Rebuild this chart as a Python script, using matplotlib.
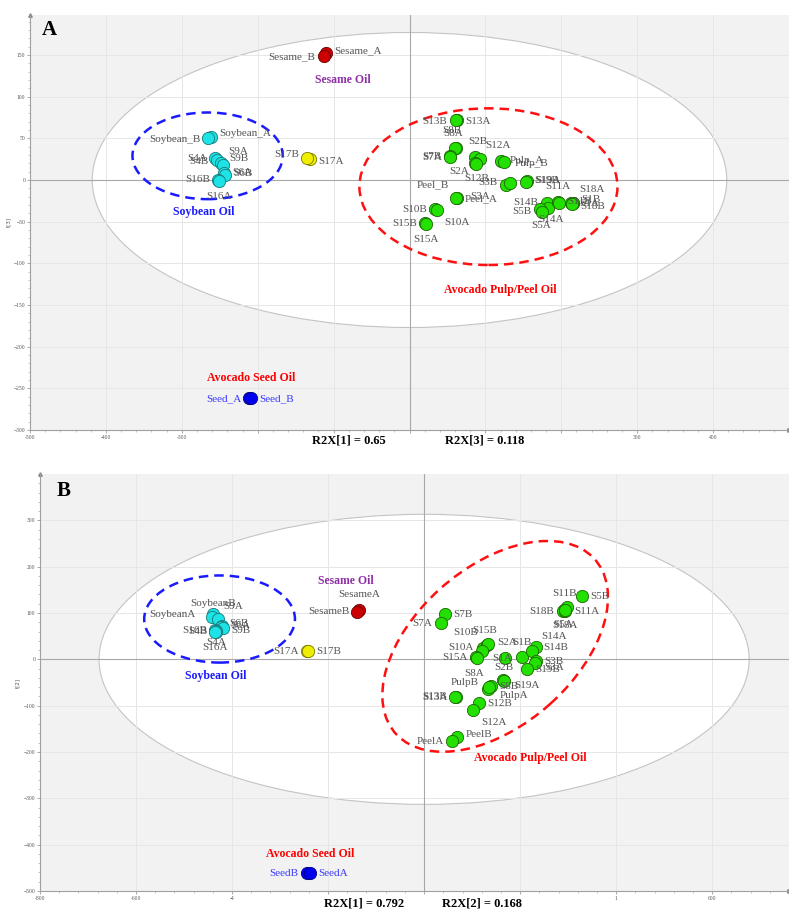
import matplotlib.pyplot as plt
from matplotlib.patches import Ellipse
from matplotlib.ticker import AutoMinorLocator

plt.rcParams['font.family'] = ['Liberation Serif', 'DejaVu Serif']

# ---------------- panel A : t[1] vs t[3] ----------------
names_a = ['Sesame_A', 'Sesame_B', 'Soybean_A', 'Soybean_B', 'S4A', 'S4B', 'S9A', 'S9B',
           'S6A', 'S6B', 'S16B', 'S16A', 'S17A', 'S17B',
           'S13A', 'S13B', 'S8A', 'S8B', 'S7A', 'S7B', 'S2B', 'S12A', 'S2A', 'S12B',
           'Pulp_A', 'Pulp_B', 'S3B', 'S3A', 'S19A', 'S19B', 'Peel_A', 'Peel_B', 'S10B', 'S10A',
           'S15B', 'S15A', 'S14B', 'S14A', 'S5B', 'S5A', 'S11A', 'S11B', 'S1A', 'S1B',
           'S18A', 'S18B', 'Seed_A', 'Seed_B']
t1_a = [-110, -113, -262, -265, -256, -254, -248, -246, -245, -243, -252, -251, -131, -135,
        62, 61, 61, 60, 54, 53, 86, 93, 86, 88, 121, 124, 127, 132, 155, 153, 62, 61, 34, 36,
        21, 22, 181, 183, 172, 174, 195, 197, 213, 215, 216, 214, -211, -209]
t3_a = [152, 149, 52, 50, 26, 24, 21, 18, 9, 6, 0, -1, 25, 27,
        72, 72, 38, 39, 29, 28, 28, 25, 20, 19, 23, 22, -6, -3, -1, -2, -22, -21, -35, -36,
        -52, -53, -27, -33, -35, -38, -26, -28, -28, -27, -28, -29, -262, -262]
group_a = ['sesame'] * 2 + ['soy'] * 10 + ['s17'] * 2 + ['avo'] * 32 + ['seed'] * 2

# ---------------- panel B : t[1] vs t[2] ----------------
names_b = ['SesameA', 'SesameB', 'SoybeanB', 'SoybeanA', 'S9A', 'S6B', 'S6A', 'S9B',
           'S16B', 'S4B', 'S4A', 'S16A', 'S17A', 'S17B',
           'S5B', 'S11B', 'S11A', 'S18B', 'S18A', 'S5A', 'S7B', 'S7A', 'S10B', 'S15B',
           'S2A', 'S10A', 'S15A', 'S8A', 'S1A', 'S1B', 'S14A', 'S14B', 'S3B', 'S3A',
           'S19B', 'S2B', 'S19A', 'S8B', 'PulpA', 'PulpB', 'S13A', 'S13B', 'S12B', 'S12A',
           'PeelB', 'PeelA', 'SeedB', 'SeedA']
t1_b = [-136, -139, -440, -442, -430, -421, -422, -418, -435, -433, -434, -435, -244, -241,
        329, 298, 292, 290, 294, 293, 44, 35, 123, 131,
        133, 121, 108, 110, 169, 204, 233, 225, 233, 232,
        214, 165, 167, 139, 134, 136, 66, 65, 115, 102,
        69, 58, -244, -238]
t2_b = [106, 103, 97, 91, 86, 72, 70, 68, 63, 61, 60, 58, 17, 17,
        136, 112, 106, 104, 104, 106, 97, 78, 24, 32,
        34, 19, 4, 2, 2, 4, 26, 17, -4, -8,
        -20, -45, -47, -58, -63, -60, -82, -81, -95, -110,
        -168, -177, -462, -462]
group_b = ['sesame'] * 2 + ['soy'] * 10 + ['s17'] * 2 + ['avo'] * 32 + ['seed'] * 2

# label offsets (points) for each sample name
off_a = {'Sesame_A': (6, 2), 'Sesame_B': (-6, -1), 'Soybean_A': (6, 2), 'Soybean_B': (-6, -1),
         'S4A': (-6, 0), 'S4B': (-6, -1), 'S9A': (5, 8), 'S9B': (5, 5), 'S6A': (6, 0), 'S6B': (6, 1),
         'S16B': (-6, 0), 'S16A': (0, -11), 'S17A': (6, -2), 'S17B': (-6, 2),
         'S13A': (6, -1), 'S13B': (-6, -1), 'S8A': (-2, 11), 'S8B': (-2, 12), 'S7A': (-6, -1),
         'S7B': (-6, 0), 'S2B': (2, 11), 'S12A': (4, 10), 'S2A': (-4, -6), 'S12B': (0, -10),
         'Pulp_A': (6, 0), 'Pulp_B': (8, -1), 'S3B': (-6, 2), 'S3A': (-14, -10), 'S19A': (6, 0),
         'S19B': (6, 1), 'Peel_A': (6, 0), 'Peel_B': (-5, 9), 'S10B': (-6, 0), 'S10A': (5, -9),
         'S15B': (-6, 0), 'S15A': (0, -11), 'S14B': (-6, 0), 'S14A': (2, -9), 'S5B': (-6, -2),
         'S5A': (0, -10), 'S11A': (0, 11), 'S11B': (6, 1), 'S1A': (6, 0), 'S1B': (6, 2),
         'S18A': (4, 10), 'S18B': (6, -2), 'Seed_A': (-6, 0), 'Seed_B': (6, 0)}
off_b = {'SesameA': (0, 11), 'SesameB': (-6, 0), 'SoybeanB': (0, 8), 'SoybeanA': (-12, 2),
         'S9A': (4, 9), 'S6B': (5, 2), 'S6A': (6, 1), 'S9B': (6, -2), 'S16B': (-6, 0),
         'S4B': (-6, 0), 'S4A': (0, -8), 'S16A': (0, -11), 'S17A': (-6, 0), 'S17B': (6, 0),
         'S5B': (6, 0), 'S11B': (-2, 10), 'S11A': (7, -1), 'S18B': (-7, 0), 'S18A': (0, -10),
         'S5A': (-1, -10), 'S7B': (6, 0), 'S7A': (-6, 0), 'S10B': (-4, 11), 'S15B': (-2, 10),
         'S2A': (7, 1), 'S10A': (-6, 2), 'S15A': (-6, 0), 'S8A': (-2, -11), 'S1A': (-2, 0),
         'S1B': (0, 11), 'S14A': (4, 8), 'S14B': (8, 3), 'S3B': (6, 0), 'S3A': (6, -3),
         'S19B': (6, -1), 'S2B': (0, 9), 'S19A': (7, -3), 'S8B': (6, 0), 'PulpA': (8, -5),
         'PulpB': (-8, 3), 'S13A': (-6, 0), 'S13B': (-6, 0), 'S12B': (6, 0), 'S12A': (6, -9),
         'PeelB': (6, 2), 'PeelA': (-6, 0), 'SeedB': (-6, 0), 'SeedA': (6, 0)}

face = {'sesame': '#cc0000', 'soy': '#1ee3e6', 's17': '#f0ee00', 'avo': '#22e000', 'seed': '#0000f0'}
edge = {'sesame': '#6a0000', 'soy': '#187878', 's17': '#7a7800', 'avo': '#1a6600', 'seed': '#000080'}

fig = plt.figure(figsize=(7.89, 9.11), dpi=100, facecolor='white')
axA = fig.add_axes([30/789, 1-430/911, 759/789, 415/911])
axB = fig.add_axes([40/789, 1-891/911, 749/789, 417/911])


def setup(ax, xlim, ylim, xticks, xlabels, yticks, ylab):
    ax.set_facecolor('#f2f2f2')
    ax.set_xlim(*xlim)
    ax.set_ylim(*ylim)
    ax.set_xticks(xticks)
    ax.set_xticklabels(xlabels)
    ax.set_yticks(yticks)
    ax.xaxis.set_minor_locator(AutoMinorLocator(5))
    ax.yaxis.set_minor_locator(AutoMinorLocator(5))
    ax.tick_params(labelsize=4, colors='#888888', labelcolor='#555555', length=2, width=0.5, pad=1.5)
    ax.tick_params(which='minor', length=1.2, width=0.4, colors='#999999')
    for s in ['top', 'right']:
        ax.spines[s].set_visible(False)
    for s in ['left', 'bottom']:
        ax.spines[s].set_color('#a0a0a0')
        ax.spines[s].set_linewidth(0.8)
    ax.grid(True, color='#e6e6e6', lw=0.7)
    ax.set_axisbelow('line')
    ax.axhline(0, color='#a8a8a8', lw=0.8, zorder=2)
    ax.axvline(0, color='#a8a8a8', lw=0.8, zorder=2)
    ax.set_ylabel(ylab, fontsize=4, color='#555555', labelpad=2, family='DejaVu Sans')
    ax.plot(0, 1, '^', transform=ax.transAxes, ms=2.5, color='#888888', clip_on=False)
    ax.plot(1, 0, '>', transform=ax.transAxes, ms=2.5, color='#888888', clip_on=False)


def draw_points(ax, names, xs, ys, groups, offs):
    for n, x, y, g in zip(names, xs, ys, groups):
        ax.scatter(x, y, s=78, c=face[g], edgecolors=edge[g], linewidths=0.6, zorder=4)
        dx, dy = offs[n]
        ha = 'left' if dx > 3 else ('right' if dx < -3 else 'center')
        col = '#3a3aff' if g == 'seed' else '#555555'
        ax.annotate(n, (x, y), xytext=(dx, dy), textcoords='offset points', ha=ha, va='center',
                    fontsize=8, color=col, zorder=5)


dash = (0, (3.8, 2.4))

# ---- panel A
setup(axA, (-500, 500), (-300, 198), range(-500, 401, 100),
      ['-500', '-400', '-300', '', '', '', '', '', '300', '400'], range(-300, 151, 50), 't[3]')
axA.add_patch(Ellipse((0, 0), 836, 354, facecolor='white', edgecolor='#c4c4c4', lw=0.8, zorder=1))
axA.add_patch(Ellipse((-266, 29), 198, 104, fill=False, edgecolor='#1a1aff', lw=1.8,
                      ls=dash, zorder=3))
axA.add_patch(Ellipse((104, -8), 340, 188, fill=False, edgecolor='#ff1010', lw=1.8,
                      ls=dash, zorder=3))
draw_points(axA, names_a, t1_a, t3_a, group_a, off_a)
axA.text(-88, 120, 'Sesame Oil', color='#8e2fa6', fontsize=8.5, fontweight='bold', ha='center', va='center')
axA.text(-271, -39, 'Soybean Oil', color='#1a1aff', fontsize=8.5, fontweight='bold', ha='center', va='center')
axA.text(119, -132, 'Avocado Pulp/Peel Oil', color='#ff0000', fontsize=8.5, fontweight='bold', ha='center', va='center')
axA.text(-208, -238, 'Avocado Seed Oil', color='#ff0000', fontsize=8.5, fontweight='bold', ha='center', va='center')
axA.text(0.026, 0.964, 'A', transform=axA.transAxes, fontsize=15, fontweight='bold', ha='center', va='center')

# ---- panel B
setup(axB, (-800, 760), (-500, 400), range(-800, 601, 200),
      ['-800', '-600', '-4', '', '', '', '1', '600'], range(-500, 301, 100), 't[2]')
axB.add_patch(Ellipse((0, 0), 1354, 626, facecolor='white', edgecolor='#c4c4c4', lw=0.8, zorder=1))
axB.add_patch(Ellipse((-426, 87), 314, 188, fill=False, edgecolor='#1a1aff', lw=1.8,
                      ls=dash, zorder=3))
axB.add_patch(Ellipse((148, 28), 560, 338, angle=43, fill=False, edgecolor='#ff1010', lw=1.8,
                      ls=dash, zorder=3))
draw_points(axB, names_b, t1_b, t2_b, group_b, off_b)
axB.text(-163, 168, 'Sesame Oil', color='#8e2fa6', fontsize=8.5, fontweight='bold', ha='center', va='center')
axB.text(-433, -37, 'Soybean Oil', color='#1a1aff', fontsize=8.5, fontweight='bold', ha='center', va='center')
axB.text(221, -212, 'Avocado Pulp/Peel Oil', color='#ff0000', fontsize=8.5, fontweight='bold', ha='center', va='center')
axB.text(-237, -421, 'Avocado Seed Oil', color='#ff0000', fontsize=8.5, fontweight='bold', ha='center', va='center')
axB.text(0.031, 0.959, 'B', transform=axB.transAxes, fontsize=15, fontweight='bold', ha='center', va='center')

# explained variance captions
fig.text(349/789, 1-441/911, 'R2X[1] = 0.65', fontsize=9, fontweight='bold', ha='center', va='center')
fig.text(485/789, 1-441/911, 'R2X[3] = 0.118', fontsize=9, fontweight='bold', ha='center', va='center')
fig.text(364/789, 1-904/911, 'R2X[1] = 0.792', fontsize=9, fontweight='bold', ha='center', va='center')
fig.text(482/789, 1-904/911, 'R2X[2] = 0.168', fontsize=9, fontweight='bold', ha='center', va='center')

fig.savefig('out.png', dpi=100)
